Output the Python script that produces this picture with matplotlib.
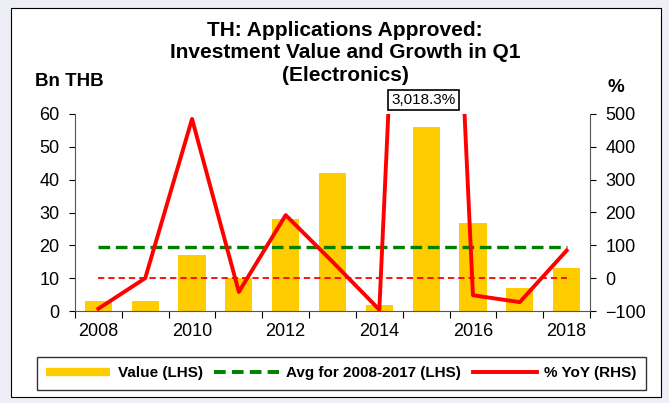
import matplotlib
matplotlib.use("Agg")
import matplotlib.pyplot as plt
from matplotlib.lines import Line2D
from matplotlib.patches import Rectangle
import numpy as np

plt.rcParams['font.family'] = ['Liberation Sans', 'DejaVu Sans']

years = [2008, 2009, 2010, 2011, 2012, 2013, 2014, 2015, 2016, 2017, 2018]
value_bn = [3.0, 3.0, 17.0, 10.0, 28.0, 42.0, 1.8, 56.0, 26.7, 7.0, 13.0]
yoy_pct = [-93, 0, 485, -42, 192, 50, -96, 3018.3, -52, -73, 84]
avg_2008_2017 = 19.5
tick_years = [2008, 2010, 2012, 2014, 2016, 2018]
peak_label = "3,018.3%"

BAR = "#FFCC00"
RED = "#FF0000"
GREEN = "#008000"

fig = plt.figure(figsize=(6.69, 4.03), dpi=100)
fig.patch.set_facecolor("#EEEEF7")
fig.patches.append(Rectangle((11 / 669, 1 - 397 / 403), 650 / 669, 389 / 403,
                             transform=fig.transFigure, facecolor="white",
                             edgecolor="black", linewidth=0.8, zorder=-5))

ax = fig.add_axes([75 / 669, 1 - 311 / 403, 515 / 669, 197 / 403])
ax.set_facecolor("none")
x = np.arange(len(years))

ax.bar(x, value_bn, width=0.58, color=BAR, zorder=2)
ax.plot([x[0], x[-1]], [avg_2008_2017] * 2, color=GREEN, lw=2.4,
        dashes=(3.5, 1.7), zorder=3)
ax.plot([x[0], x[-1]], [10, 10], color=RED, lw=1.3, dashes=(3.5, 2.2), zorder=3)

ax.set_xlim(-0.5, len(years) - 0.5)
ax.set_ylim(0, 60)
ax.set_yticks(range(0, 61, 10))
ax.set_xticks([years.index(y) for y in tick_years])
ax.set_xticklabels([str(y) for y in tick_years])
ax.set_xticks(np.arange(-0.5, len(years)), minor=True)
ax.tick_params(axis="x", which="major", length=0, pad=9, labelsize=13)
ax.tick_params(axis="x", which="minor", length=5, direction="out", width=0.8)
ax.tick_params(axis="y", length=4, direction="out", pad=7, labelsize=13, width=0.8)
for s in ["top", "right"]:
    ax.spines[s].set_visible(False)
for s in ["left", "bottom"]:
    ax.spines[s].set_linewidth(0.8)
    ax.spines[s].set_color("#555555")

ax2 = ax.twinx()
ax2.plot(x, yoy_pct, color=RED, lw=2.8, zorder=4)
ax2.set_ylim(-100, 500)
ax2.set_yticks(range(-100, 501, 100))
ax2.tick_params(axis="y", length=4, direction="out", pad=7, labelsize=13, width=0.8)
for s in ["top", "left", "bottom"]:
    ax2.spines[s].set_visible(False)
ax2.spines["right"].set_linewidth(0.8)
ax2.spines["right"].set_color("#555555")

i_peak = int(np.argmax(yoy_pct))
ax2.annotate(peak_label, xy=(x[i_peak], 500), xycoords="data",
             xytext=(-2, 10), textcoords="offset points", ha="center", va="center",
             fontsize=11,
             bbox=dict(boxstyle="square,pad=0.2", fc="white", ec="black", lw=1.2),
             annotation_clip=False)

fig.text(0.516, 1 - 53 / 403,
         "TH: Applications Approved:\nInvestment Value and Growth in Q1\n(Electronics)",
         ha="center", va="center", fontsize=15, fontweight="bold", linespacing=1.25)
fig.text(35 / 669, 1 - 82 / 403, "Bn THB", ha="left", va="center",
         fontsize=13.5, fontweight="bold")
fig.text(616 / 669, 1 - 88 / 403, "%", ha="center", va="center",
         fontsize=13.5, fontweight="bold")

handles = [
    Line2D([], [], color=BAR, lw=6, solid_capstyle="butt"),
    Line2D([], [], color=GREEN, lw=2.8, dashes=(3.0, 1.6)),
    Line2D([], [], color=RED, lw=2.8),
]
labels = ["Value (LHS)", "Avg for 2008-2017 (LHS)", "% YoY (RHS)"]
leg = fig.legend(handles, labels, loc="center", ncol=3,
                 bbox_to_anchor=(37 / 669, 1 - 391 / 403, 609 / 669, 35 / 403),
                 mode="expand", fancybox=False, edgecolor="black",
                 handlelength=4.2, handletextpad=0.5, columnspacing=0.7,
                 borderaxespad=0, borderpad=0.6,
                 prop={"weight": "bold", "size": 11})
leg.get_frame().set_linewidth(1.0)

fig.savefig("out.png", dpi=100, facecolor=fig.get_facecolor())
